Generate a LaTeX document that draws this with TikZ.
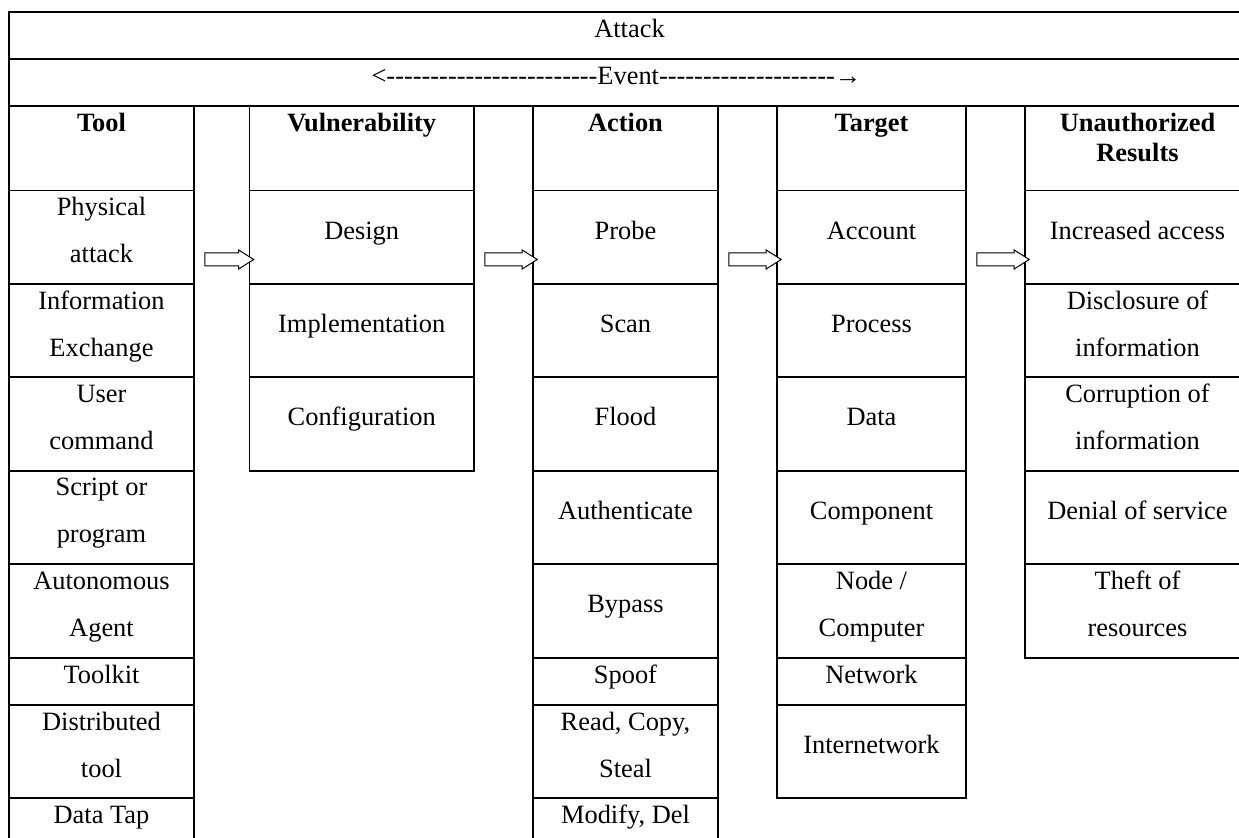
\documentclass[tikz,border=0pt]{standalone}
\usepackage{fontspec}
\setmainfont{Liberation Serif}
\newfontfamily\evfont{Liberation Serif}
\usetikzlibrary{fit,calc}

% pixel-like grid: 1 unit = 0.5pt, y grows downward
\tikzset{
  cellbox/.style={draw, line width=0.8pt, inner sep=0pt, rectangle},
  celltext/.style={inner sep=0pt, align=center, yshift=3.75pt,
    font=\fontsize{13.2}{23.5}\selectfont, execute at begin node=\strut},
  headtext/.style={inner sep=0pt, align=center, anchor=north,
    font=\bfseries\fontsize{13.2}{15}\selectfont, execute at begin node=\strut},
  two/.style={yshift=-3.75pt},
  htwo/.style={yshift=-1.5pt},
  arrowline/.style={draw, line width=0.5pt, fill=white, line join=miter}
}

% a table cell: [text style], name, x1, y1, x2, y2, text
\newcommand\tcell[7][]{%
  \node[cellbox, fit={(#3,#4) (#5,#6)}] (#2) {};
  \node[celltext,#1] (#2-txt) at (#2.center) {#7};}
% a column heading cell, text set from the top
\newcommand\hcell[7][]{%
  \node[cellbox, fit={(#3,#4) (#5,#6)}] (#2) {};
  \node[headtext,#1] (#2-txt) at ([yshift=-2.35pt]#2.north) {#7};}
% outlined block arrow from one column cell to the next
\newcommand\flowarrow[2]{%
  \draw[arrowline] let \p1=($(#1.east)+(10,22.25)$), \p2=($(#2.west)+(5,22.25)$) in
    (\x1,\y1+3.25pt) -- (\x2-7.5pt,\y1+3.25pt) -- (\x2-7.5pt,\y1+4.75pt) --
    (\x2,\y1) -- (\x2-7.5pt,\y1-4.75pt) -- (\x2-7.5pt,\y1-3.25pt) --
    (\x1,\y1-3.25pt) -- cycle;}
\newcommand\dashes[1]{\foreach \k in {1,...,#1}{-\kern0pt}}

\begin{document}
\begin{tikzpicture}[x=0.5pt, y=-0.5pt]
\useasboundingbox (0,0) rectangle (1239,838);
\fill[white] (0,0) rectangle (1239,838);
\clip (0,0) rectangle (1239,838);

% title rows
\node[cellbox, fit={(9,12) (1250,59)}] (attack) {};
\node[celltext] (attack-txt) at (attack.center) {Attack};
\node[cellbox, fit={(9,59) (1250,106)}] (event) {};
\node[celltext, font=\evfont\fontsize{13.2}{23.5}\selectfont, anchor=west] (event-txt)
  at ([xshift=181.5pt]event.west) {<\dashes{24}Event\dashes{20}→};

% Tool
\hcell{th}{9}{106}{194}{190.5}{Tool}
\tcell[two]{t1}{9}{190.5}{194}{284}{Physical\\\strut attack}
\tcell[two]{t2}{9}{284}{194}{377}{Information\\\strut Exchange}
\tcell[two]{t3}{9}{377}{194}{471}{User\\\strut command}
\tcell[two]{t4}{9}{471}{194}{564}{Script or\\\strut program}
\tcell[two]{t5}{9}{564}{194}{658}{Autonomous\\\strut Agent}
\tcell{t6}{9}{658}{194}{705}{Toolkit}
\tcell[two]{t7}{9}{705}{194}{798}{Distributed\\\strut tool}
\tcell{t8}{9}{798}{194}{845}{Data Tap}

% Vulnerability
\hcell{vh}{249.5}{106}{474}{190.5}{Vulnerability}
\tcell{v1}{249.5}{190.5}{474}{284}{Design}
\tcell{v2}{249.5}{284}{474}{377}{Implementation}
\tcell{v3}{249.5}{377}{474}{471}{Configuration}

% Action
\hcell{ah}{533}{106}{718}{190.5}{Action}
\tcell{a1}{533}{190.5}{718}{284}{Probe}
\tcell{a2}{533}{284}{718}{377}{Scan}
\tcell{a3}{533}{377}{718}{471}{Flood}
\tcell{a4}{533}{471}{718}{564}{Authenticate}
\tcell{a5}{533}{564}{718}{658}{Bypass}
\tcell{a6}{533}{658}{718}{705}{Spoof}
\tcell[two]{a7}{533}{705}{718}{798}{Read, Copy,\\\strut Steal}
\tcell{a8}{533}{798}{718}{845}{Modify, Del}

% Target
\hcell{gh}{777}{106}{966}{190.5}{Target}
\tcell{g1}{777}{190.5}{966}{284}{Account}
\tcell{g2}{777}{284}{966}{377}{Process}
\tcell{g3}{777}{377}{966}{471}{Data}
\tcell{g4}{777}{471}{966}{564}{Component}
\tcell[two]{g5}{777}{564}{966}{658}{Node /\\\strut Computer}
\tcell{g6}{777}{658}{966}{705}{Network}
\tcell{g7}{777}{705}{966}{798}{Internetwork}

% Unauthorized Results
\hcell[htwo]{uh}{1025}{106}{1250}{190.5}{Unauthorized\\\strut Results}
\tcell{u1}{1025}{190.5}{1250}{284}{Increased access}
\tcell[two]{u2}{1025}{284}{1250}{377}{Disclosure of\\\strut information}
\tcell[two]{u3}{1025}{377}{1250}{471}{Corruption of\\\strut information}
\tcell{u4}{1025}{471}{1250}{564}{Denial of service}
\tcell[two]{u5}{1025}{564}{1250}{658}{Theft of\\\strut resources}

% arrows between the columns
\flowarrow{t1}{v1}
\flowarrow{v1}{a1}
\flowarrow{a1}{g1}
\flowarrow{g1}{u1}
\end{tikzpicture}
\end{document}
